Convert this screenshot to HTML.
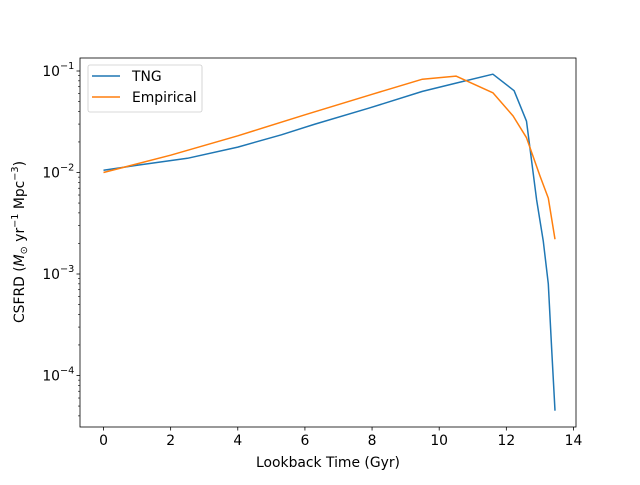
<!DOCTYPE html>
<html><head><meta charset="utf-8"><style>
body{margin:0;background:#fff;position:relative}
svg text{font-family:"DejaVu Sans","Liberation Sans",sans-serif;fill:#000}
</style></head><body>
<svg width="640" height="480" xmlns="http://www.w3.org/2000/svg">
<g id="g"></g>
</svg>
<script>
const xTicks=[0,2,4,6,8,10,12,14];
const yDecades=[-4,-3,-2,-1];
const tngX=[0,1,2.5,4,5.3,6.3,7.9,9.5,10.5,11.6,12.23,12.6,12.9,13.1,13.25,13.35,13.45];
const tngY=[0.0105,0.0118,0.0138,0.0178,0.0235,0.030,0.043,0.063,0.076,0.093,0.064,0.032,0.0054,0.0021,0.0008,0.00018,0.000045];
const empX=[0,2,4,6,8,9.5,10.5,11.6,12.2,12.6,13.0,13.25,13.45];
const empY=[0.0100,0.0148,0.023,0.037,0.059,0.083,0.089,0.061,0.036,0.022,0.0093,0.0056,0.0022];
const L=80,R=576,T=58,B=427;
const X=v=>103.5+v*33.57;
const Y=v=>71+101.5*(-1-Math.log10(v));
const NS="http://www.w3.org/2000/svg",g=document.getElementById('g');
function el(t,a,txt){const e=document.createElementNS(NS,t);for(const k in a)e.setAttribute(k,a[k]);if(txt!=null)e.textContent=txt;g.appendChild(e);return e;}
function path(xs,ys,c,name){const d=xs.map((x,i)=>(i?'L':'M')+X(x).toFixed(1)+','+Y(ys[i]).toFixed(1)).join('');
const p=el('path',{d:d,fill:'none',stroke:c,'stroke-width':1.5,'stroke-linejoin':'round'});

}
xTicks.forEach(t=>{const x=X(t);
const l=el('line',{x1:x,x2:x,y1:B,y2:B+3.5,stroke:'#000','stroke-width':0.8});


const tx=el('text',{x:x,y:B+18,'font-size':13.9,'text-anchor':'middle'},t);

});
yDecades.forEach(d=>{const y=Y(Math.pow(10,d));
const l=el('line',{x1:L-3.5,x2:L,y1:y,y2:y,stroke:'#000','stroke-width':0.8});


const tx=el('text',{x:L-20,y:y+5,'font-size':13.9,'text-anchor':'end'},'10');


el('text',{x:L-20,y:y-2,'font-size':9.7},'\u2212'+(-d));
for(let m=2;m<10;m++){const yy=Y(m*Math.pow(10,d));if(yy<T||yy>B)continue;
el('line',{x1:L-2,x2:L,y1:yy,y2:yy,stroke:'#000','stroke-width':0.6});}});
[2,3,4,5,6,7,8,9].forEach(m=>{const yy=Y(m*1e-5);if(yy>=T&&yy<=B)el('line',{x1:L-2,x2:L,y1:yy,y2:yy,stroke:'#000','stroke-width':0.6});});
path(tngX,tngY,'#1f77b4','tng-line');
path(empX,empY,'#ff7f0e','empirical-line');
</script>
<svg width="640" height="480" style="position:absolute;left:0;top:0" xmlns="http://www.w3.org/2000/svg">
<rect x="80" y="58" width="496" height="369" fill="none" stroke="#000" stroke-width="0.8"/>
<text x="328" y="467" font-size="13.9" text-anchor="middle">Lookback Time (Gyr)</text>
<text transform="translate(24,242) rotate(-90)" font-size="13.9" text-anchor="middle">CSFRD (<tspan font-style="italic">M</tspan><tspan font-size="9.7" dy="3">⊙</tspan><tspan dy="-3"> yr</tspan><tspan font-size="9.7" dy="-6">−1</tspan><tspan dy="6"> Mpc</tspan><tspan font-size="9.7" dy="-6">−3</tspan><tspan dy="6">)</tspan></text>
<g>
<rect x="88" y="65" width="114" height="47" rx="2" fill="#fff" fill-opacity="0.8" stroke="#ccc" stroke-width="0.8"/>
<line x1="92" x2="120" y1="76" y2="76" stroke="#1f77b4" stroke-width="1.5"/>
<text x="132" y="81" font-size="13.9">TNG</text>
<line x1="92" x2="120" y1="97" y2="97" stroke="#ff7f0e" stroke-width="1.5"/>
<text x="132" y="102" font-size="13.9">Empirical</text>
</g>
</svg>
</body></html>
